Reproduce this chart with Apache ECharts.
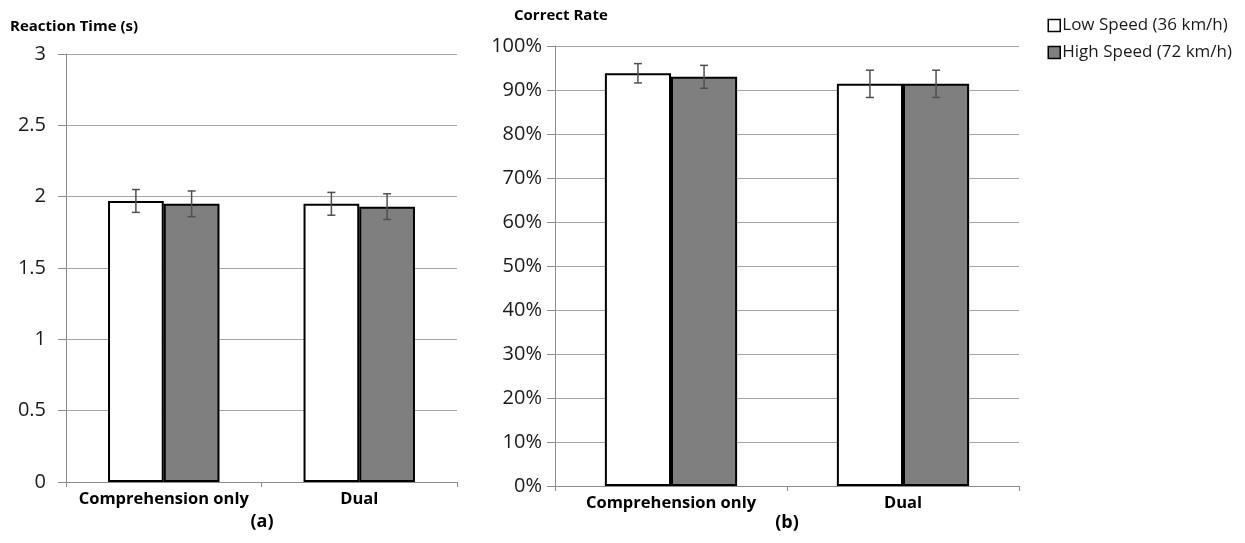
<!DOCTYPE html>
<html>
<head>
<meta charset="utf-8">
<script src="https://cdn.jsdelivr.net/npm/echarts@6/dist/echarts.min.js"></script>
<style>
  html, body { margin: 0; padding: 0; background: #fff; }
  #main { width: 1245px; height: 543px; }
</style>
</head>
<body>
<div id="main"></div>
<script>
var categories = ['Comprehension only', 'Dual'];
var seriesNames = ['Low Speed (36 km/h)', 'High Speed (72 km/h)'];

// (a) reaction time, seconds
var rtLow = [1.97, 1.95];
var rtHigh = [1.95, 1.93];
var rtLowErr = [0.08, 0.08];
var rtHighErr = [0.09, 0.09];

// (b) correct rate, percent
var crLow = [93.8, 91.4];
var crHigh = [93.0, 91.4];
var crLowErr = [2.2, 3.1];
var crHighErr = [2.6, 3.1];

var FONT = 'Open Sans';
var BAR_FRAC = 0.285;

// 误差线
function errorSeries(name, gridIdx, values, errs, side) {
    var data = [];
    for (var i = 0; i < values.length; i++) {
        data.push([i, values[i] - errs[i], values[i] + errs[i]]);
    }
    return {
        name: name,
        type: 'custom',
        xAxisIndex: gridIdx,
        yAxisIndex: gridIdx,
        silent: true,
        z: 10,
        data: data,
        renderItem: function (params, api) {
            var band = api.size([1, 0])[0];
            var off = side * band * BAR_FRAC / 2;
            var lo = api.coord([api.value(0), api.value(1)]);
            var hi = api.coord([api.value(0), api.value(2)]);
            var x = lo[0] + off;
            var cap = 4;
            var style = { stroke: '#505050', lineWidth: 1.5 };
            return {
                type: 'group',
                children: [
                    { type: 'line', shape: { x1: x, y1: lo[1], x2: x, y2: hi[1] }, style: style },
                    { type: 'line', shape: { x1: x - cap, y1: lo[1], x2: x + cap, y2: lo[1] }, style: style },
                    { type: 'line', shape: { x1: x - cap, y1: hi[1], x2: x + cap, y2: hi[1] }, style: style }
                ]
            };
        }
    };
}

function barSeries(name, gridIdx, values, color) {
    return {
        name: name,
        type: 'bar',
        xAxisIndex: gridIdx,
        yAxisIndex: gridIdx,
        barWidth: (BAR_FRAC * 100) + '%',
        barGap: '0%',
        itemStyle: { color: color, borderColor: '#000', borderWidth: 2 },
        data: values
    };
}

function catAxis(gridIdx) {
    return {
        type: 'category',
        gridIndex: gridIdx,
        data: categories,
        axisLine: { lineStyle: { color: '#8c8c8c', width: 1 } },
        axisTick: { show: true, length: 5, lineStyle: { color: '#8c8c8c' } },
        axisLabel: { interval: 0, color: '#000', fontFamily: FONT, fontWeight: 'bold', fontSize: 16.5, margin: 9 }
    };
}

function valAxis(gridIdx, max, interval, fmt, margin) {
    return {
        type: 'value',
        gridIndex: gridIdx,
        min: 0,
        max: max,
        interval: interval,
        axisLine: { show: true, lineStyle: { color: '#8c8c8c', width: 1 } },
        axisTick: { show: true, length: 8, lineStyle: { color: '#8c8c8c' } },
        splitLine: { lineStyle: { color: '#a6a6a6', width: 1 } },
        axisLabel: { color: '#1a1a1a', fontFamily: FONT, fontSize: 20, margin: margin, formatter: fmt }
    };
}

var myChart = echarts.init(document.getElementById('main'));

var option = {
    animation: false,
    backgroundColor: '#fff',
    title: [
        { text: 'Reaction Time (s)', left: 5, top: 14, textStyle: { fontFamily: FONT, fontSize: 15, fontWeight: 'bold', color: '#000' } },
        { text: 'Correct Rate', left: 509, top: 3, textStyle: { fontFamily: FONT, fontSize: 15, fontWeight: 'bold', color: '#000' } }
    ],
    legend: {
        orient: 'vertical',
        right: 8,
        top: 12,
        itemGap: 10,
        itemWidth: 12,
        itemHeight: 12,
        icon: 'rect',
        data: seriesNames,
        itemStyle: { borderColor: '#000', borderWidth: 1.5 },
        textStyle: { fontFamily: FONT, fontSize: 17, color: '#1a1a1a', padding: [0, 0, 0, -3] }
    },
    grid: [
        { left: 66, right: 1245 - 457, top: 54, bottom: 543 - 482 },
        { left: 555, right: 1245 - 1019, top: 46, bottom: 543 - 486 }
    ],
    xAxis: [catAxis(0), catAxis(1)],
    yAxis: [
        valAxis(0, 3, 0.5, function (v) { return String(v); }, 20),
        valAxis(1, 100, 10, '{value}%', 13)
    ],
    graphic: [
        { type: 'text', x: 262, y: 522, style: { text: '(a)', font: 'bold 18px "Open Sans"', fill: '#000', align: 'center', verticalAlign: 'middle' } },
        { type: 'text', x: 787, y: 523, style: { text: '(b)', font: 'bold 18px "Open Sans"', fill: '#000', align: 'center', verticalAlign: 'middle' } }
    ],
    series: [
        barSeries(seriesNames[0], 0, rtLow, '#ffffff'),
        barSeries(seriesNames[1], 0, rtHigh, '#7f7f7f'),
        barSeries(seriesNames[0], 1, crLow, '#ffffff'),
        barSeries(seriesNames[1], 1, crHigh, '#7f7f7f'),
        errorSeries('errA0', 0, rtLow, rtLowErr, -1),
        errorSeries('errA1', 0, rtHigh, rtHighErr, 1),
        errorSeries('errB0', 1, crLow, crLowErr, -1),
        errorSeries('errB1', 1, crHigh, crHighErr, 1)
    ]
};

myChart.setOption(option, true);
</script>
</body>
</html>
